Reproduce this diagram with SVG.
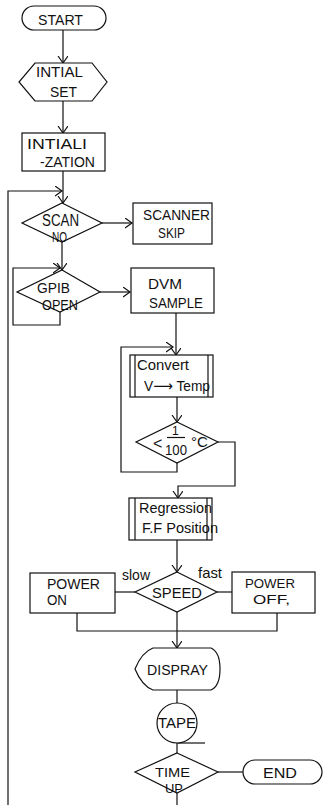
<svg xmlns="http://www.w3.org/2000/svg" width="328" height="805" viewBox="0 0 328 805">
<style>
.s{fill:#fff;stroke:#111;stroke-width:1.2}
.d{fill:none;stroke:#111;stroke-width:1.2}
.c{fill:none;stroke:#111;stroke-width:1.2}
text{font-family:"Liberation Sans","DejaVu Sans",sans-serif;font-size:15px;fill:#111}
.t13{font-size:13.5px}
</style>
<defs>
<marker id="ah" markerUnits="userSpaceOnUse" markerWidth="12" markerHeight="12" refX="7" refY="5" orient="auto">
<path d="M0,0 L7,5 L0,10" fill="none" stroke="#111" stroke-width="1.2"/>
</marker>
</defs>
<rect width="328" height="805" fill="#fff"/>
<g id="connectors">
<path class="c" d="M63,30 V63" marker-end="url(#ah)"/>
<path class="c" d="M63,101 V133" marker-end="url(#ah)"/>
<path class="c" d="M63,171 V203" marker-end="url(#ah)"/>
<path class="c" d="M8,805 V191 H62" marker-end="url(#ah)"/>
<path class="c" d="M102,223 H132" marker-end="url(#ah)"/>
<path class="c" d="M62,242 V270" marker-end="url(#ah)"/>
<path class="c" d="M60,312 V325 H13 V268 H60" marker-end="url(#ah)"/>
<path class="c" d="M100,292 H130" marker-end="url(#ah)"/>
<path class="c" d="M176,313 V355" marker-end="url(#ah)"/>
<path class="c" d="M177,463 V472 H121 V347 H173" marker-end="url(#ah)"/>
<path class="c" d="M177,397 V422" marker-end="url(#ah)"/>
<path class="c" d="M218,442 H235 V486 H178 V498" marker-end="url(#ah)"/>
<path class="c" d="M177,540 V572" marker-end="url(#ah)"/>
<path class="c" d="M135,592 H115"/>
<path class="c" d="M217,592 H232"/>
<path class="c" d="M77,613 V631 H277 V613"/>
<path class="c" d="M177,612 V648" marker-end="url(#ah)"/>
<path class="c" d="M177,690 V703"/>
<path class="c" d="M177,743 V753"/>
<path class="c" d="M177,743 H205"/>
<path class="c" d="M218,772 H243"/>
<path class="c" d="M177,793 V805"/>
</g>
<g id="start">
<rect class="s" x="22" y="6" width="84" height="24" rx="12"/>
<text x="38" y="25" textLength="45" lengthAdjust="spacingAndGlyphs">START</text>
</g>
<g id="initial-set">
<polygon class="s" points="35,63 92,63 107,82 92,101 35,101 19,82"/>
<text x="36" y="77" textLength="47" lengthAdjust="spacingAndGlyphs">INTIAL</text>
<text x="50" y="97" textLength="27" lengthAdjust="spacingAndGlyphs">SET</text>
</g>
<g id="initialization">
<rect class="s" x="22" y="133" width="83" height="38"/>
<text x="27" y="149" textLength="60" lengthAdjust="spacingAndGlyphs">INTIALI</text>
<text x="40" y="167" textLength="55" lengthAdjust="spacingAndGlyphs">-ZATION</text>
</g>
<g id="scan-no">
<polygon class="s" points="62,203 102,223 62,242 22,223"/>
<text x="42" y="226" textLength="37" lengthAdjust="spacingAndGlyphs" style="font-size:16px">SCAN</text>
<text x="52" y="242" textLength="15" lengthAdjust="spacingAndGlyphs">NO</text>
</g>
<g id="scanner-skip">
<rect class="s" x="133" y="203" width="79" height="41"/>
<text x="143" y="220" textLength="67" lengthAdjust="spacingAndGlyphs">SCANNER</text>
<text x="158" y="238" textLength="27" lengthAdjust="spacingAndGlyphs">SKIP</text>
</g>
<g id="gpib-open">
<polygon class="s" points="62,270 100,292 60,312 17,292"/>
<text x="37" y="293" textLength="33" lengthAdjust="spacingAndGlyphs">GPIB</text>
<text x="42" y="310" textLength="36" lengthAdjust="spacingAndGlyphs">OPEN</text>
</g>
<g id="dvm-sample">
<rect class="s" x="131" y="268" width="83" height="45"/>
<text x="148" y="289" textLength="34" lengthAdjust="spacingAndGlyphs">DVM</text>
<text x="149" y="308" textLength="54" lengthAdjust="spacingAndGlyphs">SAMPLE</text>
</g>
<g id="convert">
<rect class="s" x="130" y="355" width="83" height="42"/>
<line class="d" x1="135" y1="355" x2="135" y2="397"/>
<line class="d" x1="208" y1="355" x2="208" y2="397"/>
<text x="137" y="370" textLength="52" lengthAdjust="spacingAndGlyphs">Convert</text>
<text x="144" y="391" textLength="66" lengthAdjust="spacingAndGlyphs">V⟶ Temp</text>
</g>
<g id="threshold">
<polygon class="s" points="177,422 218,442 177,463 136,442"/>
<text x="153" y="449" style="font-size:16px">&lt;</text>
<text x="172" y="435" style="font-size:12px">1</text>
<line class="d" x1="167" y1="437.5" x2="185" y2="437.5"/>
<text x="165" y="455" textLength="22" lengthAdjust="spacingAndGlyphs">100</text>
<text x="191" y="447" style="font-size:15px">°C</text>
</g>
<g id="regression">
<rect class="s" x="129" y="498" width="83" height="42"/>
<line class="d" x1="135" y1="498" x2="135" y2="540"/>
<line class="d" x1="207" y1="498" x2="207" y2="540"/>
<text x="139" y="513" textLength="73" lengthAdjust="spacingAndGlyphs">Regression</text>
<text x="142" y="533" textLength="76" lengthAdjust="spacingAndGlyphs">F.F Position</text>
</g>
<g id="speed">
<polygon class="s" points="177,572 217,592 177,612 135,592"/>
<text x="152" y="598" textLength="50" lengthAdjust="spacingAndGlyphs">SPEED</text>
<text x="122" y="580" textLength="28" lengthAdjust="spacingAndGlyphs">slow</text>
<text x="198" y="578" textLength="24" lengthAdjust="spacingAndGlyphs">fast</text>
</g>
<g id="power-on">
<rect class="s" x="30" y="573" width="85" height="40"/>
<text x="47" y="589" textLength="53" lengthAdjust="spacingAndGlyphs">POWER</text>
<text x="47" y="605" textLength="20" lengthAdjust="spacingAndGlyphs">ON</text>
</g>
<g id="power-off">
<rect class="s" x="232" y="572" width="83" height="41"/>
<text class="t13" x="245" y="588" textLength="50" lengthAdjust="spacingAndGlyphs">POWER</text>
<text class="t13" x="253" y="604" textLength="37" lengthAdjust="spacingAndGlyphs">OFF,</text>
</g>
<g id="dispray">
<path class="s" d="M135,669 Q142,652 153,648 H211 Q220,652 220,669 Q220,686 211,690 H153 Q142,686 135,669 Z"/>
<text x="147" y="675" textLength="61" lengthAdjust="spacingAndGlyphs">DISPRAY</text>
</g>
<g id="tape">
<circle class="s" cx="177" cy="723" r="20"/>
<text x="158" y="728" textLength="38" lengthAdjust="spacingAndGlyphs">TAPE</text>
</g>
<g id="time-up">
<polygon class="s" points="177,753 218,772 177,793 135,772"/>
<text class="t13" x="155" y="777" textLength="35" lengthAdjust="spacingAndGlyphs">TIME</text>
<text class="t13" x="165" y="793" textLength="18" lengthAdjust="spacingAndGlyphs">UP</text>
</g>
<g id="end">
<rect class="s" x="243" y="760" width="79" height="24" rx="12"/>
<text x="263" y="778" textLength="34" lengthAdjust="spacingAndGlyphs">END</text>
</g>
</svg>
